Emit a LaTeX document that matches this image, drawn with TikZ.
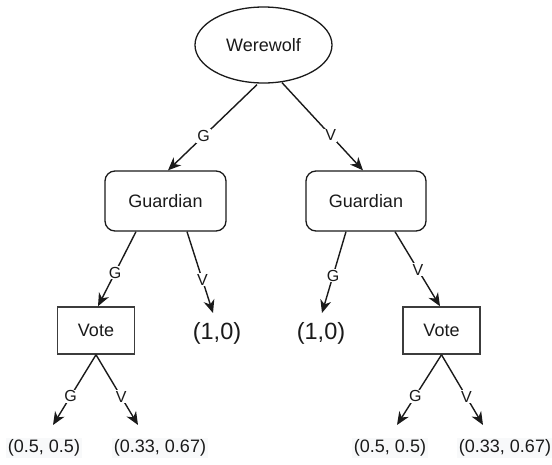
\documentclass[tikz,border=0pt]{standalone}
\usepackage{fontspec}
\setmainfont{Liberation Sans}
\usetikzlibrary{shapes.geometric,arrows.meta,calc}

\definecolor{ink}{HTML}{1A1A1A}
\definecolor{leafbg}{HTML}{F8F9FA}

\tikzset{
  every node/.style={text=ink},
  txt/.style={font=\fontsize{18}{21}\selectfont},
  rootnode/.style={draw=ink, line width=1.3pt, ellipse, minimum width=137pt, minimum height=76pt, txt},
  guard/.style={draw=ink, line width=1.3pt, rounded corners=10pt, minimum height=60pt, txt},
  votebox/.style={draw=ink!85, line width=1.5pt, minimum width=77pt, minimum height=47pt, txt},
  payoff/.style={font=\fontsize{23.5}{26}\selectfont, inner sep=1pt},
  leaf/.style={fill=leafbg, inner sep=1.5pt, txt},
  edge/.style={draw=ink, line width=1.4pt, -{Stealth[length=13pt, width=11pt, inset=4pt]}},
  elabel/.style={fill=white, inner sep=1pt, font=\fontsize{16}{18}\selectfont},
}

\begin{document}
\begin{tikzpicture}[x=1pt, y=-1pt]
\useasboundingbox (0,0) rectangle (552,464);

% game tree nodes
\node[rootnode] (ww) at (263.5,45) {Werewolf};
\node[guard, minimum width=121pt] (gl) at (165.5,201) {Guardian};
\node[guard, minimum width=120pt] (gr) at (366,201) {Guardian};
\node[votebox] (vl) at (96,330.5) {Vote};
\node[votebox] (vr) at (441.5,330.5) {Vote};
\node[payoff] (pl) at (217,333) {(1,0)};
\node[payoff] (pr) at (321,333) {(1,0)};
\node[leaf] (la) at (44,448) {(0.5, 0.5)};
\node[leaf] (lb) at (160,448) {(0.33, 0.67)};
\node[leaf] (ra) at (390,448) {(0.5, 0.5)};
\node[leaf] (rb) at (505,448) {(0.33, 0.67)};

% werewolf's choice
\draw[edge] ($(ww.south)+(-6.5,1)$) -- node[elabel, pos=0.6] {G} ($(gl.north)+(2.5,0)$);
\draw[edge] ($(ww.south)+(18.5,-1)$) -- node[elabel, pos=0.6] {V} ($(gr.north)+(-3,0)$);

% guardian's choice
\draw[edge] ($(gl.south)+(-29.5,0)$) -- node[elabel, pos=0.55] {G} ($(vl.north)+(2,0)$);
\draw[edge] ($(gl.south)+(21.5,0)$) -- node[elabel, pos=0.59] {V} ($(pl)+(-4,-20)$);
\draw[edge] ($(gr.south)+(-20,0)$) -- node[elabel, pos=0.54] {G} ($(pr)+(1,-20)$);
\draw[edge] ($(gr.south)+(29,0)$) -- node[elabel, pos=0.51] {V} ($(vr.north)+(-1.5,0)$);

% votes
\draw[edge] (vl.south) -- node[elabel, pos=0.59] {G} ($(la)+(9,-23)$);
\draw[edge] (vl.south) -- node[elabel, pos=0.6] {V} ($(lb)+(-22,-23)$);
\draw[edge] (vr.south) -- node[elabel, pos=0.59] {G} ($(ra)+(7,-23)$);
\draw[edge] (vr.south) -- node[elabel, pos=0.6] {V} ($(rb)+(-22,-23)$);
\end{tikzpicture}
\end{document}
